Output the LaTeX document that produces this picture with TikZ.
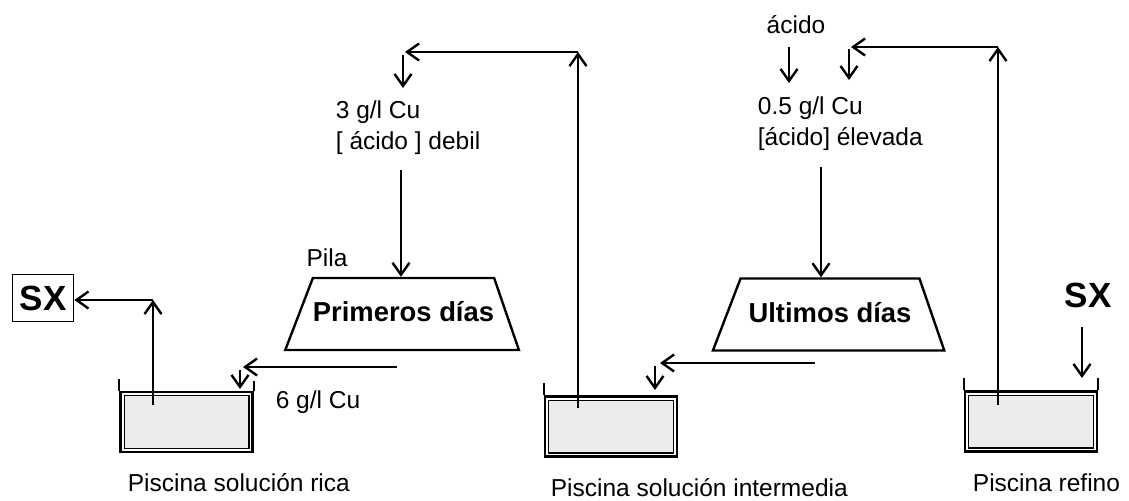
\documentclass[tikz,border=0pt]{standalone}
\usepackage{fontspec}
\setmainfont{Liberation Sans}
\usetikzlibrary{arrows.meta,shapes.geometric,calc}

\begin{document}
\begin{tikzpicture}[x=0.5pt,y=-0.5pt,line width=0.9pt,font=\fontsize{12.25}{15.5}\selectfont]
\tikzstyle{every node}+=[inner sep=0pt]
\tikzstyle{arr}=[-{Straight Barb[length=6pt,width=8.5pt,line width=1.2pt]}]
\tikzstyle{tank}=[draw,line width=1.3pt,minimum width=66pt,minimum height=30pt]
\tikzstyle{heap}=[draw,line width=1.2pt,trapezium,trapezium left angle=69,trapezium right angle=71,text height=10pt,text depth=2.5pt,inner ysep=11.75pt,font=\fontsize{13.7}{16}\selectfont\bfseries]
\tikzstyle{sx}=[font=\fontsize{17.5}{20}\selectfont\bfseries]
\useasboundingbox (0,0) rectangle (1129,500);
% piscinas
\node[tank] (rica) at (186.5,422) {};
\node[tank] (inter) at (611,426.5) {};
\node[tank] (refino) at (1031,421.5) {};
\draw[fill=gray!15,line width=0.7pt] ($(rica.north west)+(2.5pt,-2.5pt)$) rectangle ($(rica.south east)+(-2.5pt,2.5pt)$);
\draw[fill=gray!15,line width=0.7pt] ($(inter.north west)+(2.5pt,-2.5pt)$) rectangle ($(inter.south east)+(-2.5pt,2.5pt)$);
\draw[fill=gray!15,line width=0.7pt] ($(refino.north west)+(2.5pt,-2.5pt)$) rectangle ($(refino.south east)+(-2.5pt,2.5pt)$);
\draw (rica.north west) -- ++(0,-12);
\draw (rica.north east) -- ++(0,-10);
\draw (inter.north west) -- ++(0,-12);
\draw (refino.north west) -- ++(0,-12);
\draw (refino.north east) -- ++(0,-12);
\node[anchor=west] (lrica) at (127,483) {Piscina solución rica};
\node[anchor=west] (linter) at (550,488) {Piscina solución intermedia};
\node[anchor=west] (lrefino) at (972,483) {Piscina refino};
% pilas
\node[heap,inner xsep=0pt] (prim) at (403.5,314) {Primeros días};
\node[heap,inner xsep=4pt] (ult) at (830,314.5) {Ultimos días};
\node (pila) at (327,258) {Pila};
% textos
\node[draw,sx,minimum width=30.5pt,minimum height=23.5pt] (sxl) at (43,298) {SX};
\node[sx] (sxr) at (1088,295) {SX};
\node (cu6) at (318,402) {6 g/l Cu};
\node[anchor=west,align=left] (cu3) at (335,127.5) {3 g/l Cu\\{[} ácido ] debil};
\node[anchor=west,align=left] (cu05) at (757,123.5) {0.5 g/l Cu\\{[}ácido] élevada};
\node (acid) at (796,25) {ácido};
% puntos
\coordinate (r1) at (153,405);
\coordinate (k1) at (153,300);
\coordinate (h1) at (397,367);
\coordinate (h1e) at (243,367);
\coordinate (d1) at (240,370);
\coordinate (d1e) at (240,389);
\coordinate (i1) at (578,408);
\coordinate (k2) at (578,52);
\coordinate (k2e) at (405,52);
\coordinate (d2) at (403,55);
\coordinate (d2e) at (403,88);
\coordinate (f1) at (401,170);
\coordinate (h2) at (815,363);
\coordinate (h2e) at (660,363);
\coordinate (d3) at (655,366);
\coordinate (d3e) at (655,390);
\coordinate (i2) at (998,405);
\coordinate (k3) at (998,47);
\coordinate (k3e) at (851,47);
\coordinate (d4) at (849,49);
\coordinate (d4e) at (849,80);
\coordinate (a1) at (789,47);
\coordinate (a1e) at (789,83);
\coordinate (f2) at (821,167);
\coordinate (s1) at (1082,327);
\coordinate (s1e) at (1082,378);
% flujos
\draw[arr] (r1) -- (k1);
\draw[arr] (k1) -- (k1 -| sxl.east);
\draw[arr] (h1) -- (h1e);
\draw[arr] (d1) -- (d1e);
\draw[arr] (i1) -- (k2);
\draw[arr] (k2) -- (k2e);
\draw[arr] (d2) -- (d2e);
\draw[arr] (f1) -- (f1 |- prim.north);
\draw[arr] (h2) -- (h2e);
\draw[arr] (d3) -- (d3e);
\draw[arr] (i2) -- (k3);
\draw[arr] (k3) -- (k3e);
\draw[arr] (d4) -- (d4e);
\draw[arr] (a1) -- (a1e);
\draw[arr] (f2) -- (f2 |- ult.north);
\draw[arr,line width=0.7pt] (s1) -- (s1e);
\end{tikzpicture}
\end{document}
